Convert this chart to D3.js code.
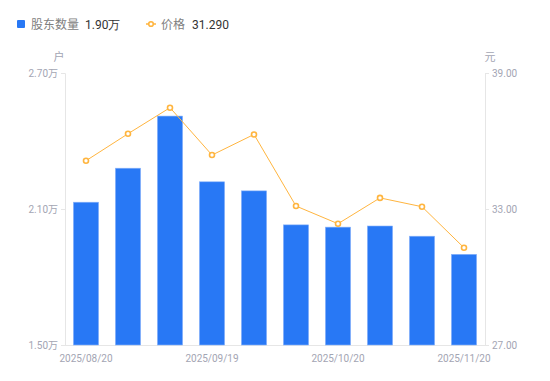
<!DOCTYPE html>
<html><head><meta charset="utf-8">
<script src="https://cdn.jsdelivr.net/npm/d3@7/dist/d3.min.js"></script>
<style>body{margin:0;background:#fff;font-family:"Noto Sans CJK SC","Noto Sans",sans-serif;}</style>
</head><body><svg id="c" width="550" height="381"></svg>
<script>
const dates = ["2025/08/20","2025/08/30","2025/09/10","2025/09/19","2025/09/30","2025/10/10","2025/10/20","2025/10/31","2025/11/10","2025/11/20"];
const holders = [2.13, 2.28, 2.51, 2.22, 2.18, 2.03, 2.02, 2.025, 1.98, 1.90];
const prices = [35.13, 36.32, 37.47, 35.38, 36.29, 33.13, 32.35, 33.49, 33.10, 31.29];
const leftTicks = [1.5, 2.1, 2.7];
const rightTicks = [27, 33, 39];
const shownDates = ["2025/08/20","2025/09/19","2025/10/20","2025/11/20"];

const svg = d3.select("#c");
const L = 65, R = 485, T = 73, B = 345;
const x = d3.scaleBand().domain(dates).range([L, R]).paddingInner(0.4).paddingOuter(0.2);
const yL = d3.scaleLinear().domain([1.5, 2.7]).range([B, T]);
const yR = d3.scaleLinear().domain([27, 39]).range([B, T]);
const axisCol = "#e6e6e6", labCol = "#a3a5b3";

// axes
const gl = svg.append("g").attr("transform", `translate(${L},0)`)
  .call(d3.axisLeft(yL).tickValues(leftTicks).tickSize(4).tickPadding(3).tickFormat(d => d3.format(".2f")(d) + "万"));
const gr = svg.append("g").attr("transform", `translate(${R},0)`)
  .call(d3.axisRight(yR).tickValues(rightTicks).tickSize(4).tickPadding(3).tickFormat(d3.format(".2f")));
const gb = svg.append("g").attr("transform", `translate(0,${B})`)
  .call(d3.axisBottom(x).tickValues(shownDates).tickSize(0).tickPadding(10));
gb.select(".domain").attr("d", `M${L},0.5H${R}`);
[gl, gr, gb].forEach(g => {
  g.select(".domain").attr("stroke", axisCol);
  g.selectAll(".tick line").attr("stroke", axisCol);
  g.selectAll("text").attr("fill", labCol).style("font-family", "Roboto,'Noto Sans CJK SC',sans-serif").style("font-size", "10px");
});

svg.append("text").attr("x", 59).attr("y", 61).attr("text-anchor", "middle").attr("fill", labCol).style("font-size", "11px").text("户");
svg.append("text").attr("x", 490).attr("y", 61).attr("text-anchor", "middle").attr("fill", labCol).style("font-size", "11px").text("元");

// bars
svg.append("g").selectAll("rect").data(dates).join("rect")
  .attr("x", d => x(d)).attr("width", x.bandwidth())
  .attr("y", (d, i) => yL(holders[i])).attr("height", (d, i) => B - yL(holders[i]))
  .attr("fill", "#2878f5").attr("stroke", "#8ab4fa").attr("stroke-width", 0.6);

// line
const cx = d => x(d) + x.bandwidth() / 2;
svg.append("path").datum(dates)
  .attr("d", d3.line().x(cx).y((d, i) => yR(prices[i])))
  .attr("fill", "none").attr("stroke", "#ffb53f").attr("stroke-width", 1);
svg.append("g").selectAll("circle").data(dates).join("circle")
  .attr("cx", cx).attr("cy", (d, i) => yR(prices[i])).attr("r", 2.5)
  .attr("fill", "#fff").attr("stroke", "#ffb53f").attr("stroke-width", 1.6);

// legend
const lg = svg.append("g").style("font-size", "12px");
lg.append("rect").attr("x", 17).attr("y", 20).attr("width", 8).attr("height", 8).attr("rx", 1).attr("fill", "#2878f5");
lg.append("text").attr("x", 31).attr("y", 28.5).attr("fill", "#808080").text("股东数量");
lg.append("text").attr("x", 85).attr("y", 28.5).attr("fill", "#333").style("font-family", "Roboto,sans-serif").text(d3.format(".2f")(holders[holders.length - 1]) + "万");
lg.append("line").attr("x1", 146).attr("x2", 156).attr("y1", 24).attr("y2", 24).attr("stroke", "#ffb53f").attr("stroke-width", 1.5);
lg.append("circle").attr("cx", 151).attr("cy", 24).attr("r", 2.3).attr("fill", "#fff").attr("stroke", "#ffb53f").attr("stroke-width", 1.6);
lg.append("text").attr("x", 161).attr("y", 28.5).attr("fill", "#808080").text("价格");
lg.append("text").attr("x", 192).attr("y", 28.5).attr("fill", "#333").style("font-family", "Roboto,sans-serif").text(d3.format(".3f")(prices[prices.length - 1]));
</script></body></html>
